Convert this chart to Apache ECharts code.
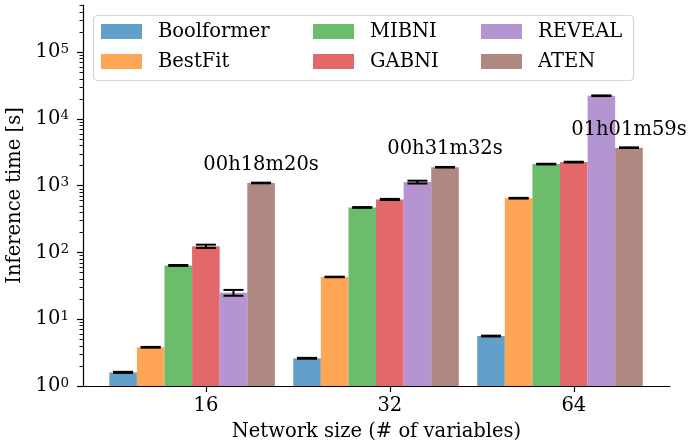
<!DOCTYPE html>
<html>
<head>
<meta charset="utf-8">
<script src="https://cdn.jsdelivr.net/npm/echarts@6/dist/echarts.min.js"></script>
<style>
  html, body { margin: 0; padding: 0; background: #fff; }
  #chart { width: 688px; height: 446px; }
</style>
</head>
<body>
<div id="chart"></div>
<script>
// Inference time per method and network size (log scale)
const categories = ['16', '32', '64'];
const methods = ['Boolformer', 'BestFit', 'MIBNI', 'GABNI', 'REVEAL', 'ATEN'];

const boolformerTimes = [1.6, 2.6, 5.6];
const bestfitTimes = [3.8, 43, 650];
const mibniTimes = [64, 473, 2110];
const gabniTimes = [124, 623, 2260];
const revealTimes = [25, 1135, 22300];
const atenTimes = [1100, 1892, 3719];

const boolformerErr = [0.03, 0.04, 0.08];
const bestfitErr = [0.05, 0.4, 8];
const mibniErr = [1, 6, 25];
const gabniErr = [7, 12, 30];
const revealErr = [2.5, 55, 250];
const atenErr = [12, 20, 40];

const atenLabels = ['00h18m20s', '00h31m32s', '01h01m59s'];

const yMajorTicks = [1, 10, 100, 1000, 10000, 100000];
const yMinorTicks = [];
yMajorTicks.forEach(base => {
    for (let m = 2; m <= 9; m++) yMinorTicks.push(base * m);
});

// tab10 colours blended at alpha 0.7 on white
const colors = ['#62a0ca', '#ffa556', '#6bbd6b', '#e2686a', '#b495d1', '#af8981'];

const allTimes = [boolformerTimes, bestfitTimes, mibniTimes, gabniTimes, revealTimes, atenTimes];
const allErr = [boolformerErr, bestfitErr, mibniErr, gabniErr, revealErr, atenErr];

const FONT = 'DejaVu Serif';
const BAR_W = 0.15;                 // bar width in x units
const GROUP_SHIFT = -BAR_W / 2;     // tick sits on the 4th bar's centre

const chart = echarts.init(document.getElementById('chart'), null, { renderer: 'canvas' });

const barSeries = methods.map((name, i) => ({
    name: name,
    type: 'bar',
    xAxisIndex: 0,
    yAxisIndex: 0,
    barWidth: (BAR_W * 100) + '%',
    barGap: '0%',
    itemStyle: { color: colors[i] },
    data: allTimes[i].map((v, k) => [k + GROUP_SHIFT, v]),
    label: i === 5 ? {
        show: true,
        position: 'top',
        distance: 8,
        color: '#000',
        fontFamily: FONT,
        fontSize: 19.5,
        formatter: p => atenLabels[p.dataIndex]
    } : { show: false },
    emphasis: { disabled: true },
    animation: false
}));

// error bar rows: [x, low, high]
const errRows = [];
methods.forEach((name, i) => {
    allTimes[i].forEach((v, k) => {
        const x = k + GROUP_SHIFT + (i - 2.5) * BAR_W;
        errRows.push([x, v - allErr[i][k], v + allErr[i][k]]);
    });
});

const errorSeries = {
    type: 'custom',
    name: 'err',
    xAxisIndex: 0,
    yAxisIndex: 0,
    data: errRows,
    encode: { x: 0, y: [1, 2] },
    z: 5,
    silent: true,
    animation: false,
    renderItem: function (params, api) {
        const x = api.value(0);
        const lo = api.coord([x, api.value(1)]);
        const hi = api.coord([x, api.value(2)]);
        const half = 10;
        const st = { stroke: '#000', lineWidth: 2 };
        return {
            type: 'group',
            children: [
                { type: 'line', shape: { x1: lo[0], y1: lo[1], x2: hi[0], y2: hi[1] }, style: st },
                { type: 'line', shape: { x1: lo[0] - half, y1: lo[1], x2: lo[0] + half, y2: lo[1] }, style: st },
                { type: 'line', shape: { x1: hi[0] - half, y1: hi[1], x2: hi[0] + half, y2: hi[1] }, style: st }
            ]
        };
    }
};

function makeLegend(names, left) {
    return {
        data: names,
        orient: 'vertical',
        left: left,
        top: 21.5,
        padding: 0,
        itemWidth: 41,
        itemHeight: 15,
        itemGap: 10,
        icon: 'rect',
        selectedMode: false,
        textStyle: {
            fontFamily: FONT,
            fontSize: 19.5,
            color: '#000',
            lineHeight: 20,
            padding: [0, 0, 0, 11]
        }
    };
}

const option = {
    backgroundColor: '#fff',
    animation: false,
    grid: {
        left: 83,
        right: 18,
        top: 5,
        bottom: 60,
        containLabel: false,
        outerBoundsMode: 'none'
    },
    graphic: [{
        type: 'rect',
        z: 0,
        shape: { x: 93.5, y: 15.5, width: 540, height: 65, r: 4 },
        style: { fill: '#fff', stroke: '#d6d6d6', lineWidth: 1.2 }
    }],
    legend: [
        makeLegend([methods[0], methods[1]], 101),
        makeLegend([methods[2], methods[3]], 313),
        makeLegend([methods[4], methods[5]], 481)
    ],
    xAxis: {
        type: 'value',
        min: -0.668,
        max: 2.523,
        name: 'Network size (# of variables)',
        nameLocation: 'middle',
        nameGap: 36,
        nameTextStyle: { fontFamily: FONT, fontSize: 19.5, color: '#000' },
        splitLine: { show: false },
        axisLine: { show: true, onZero: false, lineStyle: { color: '#000', width: 1.2 } },
        axisTick: { show: true, length: 6, customValues: [0, 1, 2], lineStyle: { color: '#000', width: 1.2 } },
        axisLabel: {
            customValues: [0, 1, 2],
            formatter: v => categories[Math.round(v)],
            margin: 10,
            fontFamily: FONT,
            fontSize: 19.5,
            color: '#000'
        }
    },
    yAxis: [{
        type: 'log',
        logBase: 10,
        min: 1,
        max: 510000,
        name: 'Inference time [s]',
        nameLocation: 'middle',
        nameGap: 55,
        nameTextStyle: { fontFamily: FONT, fontSize: 19.5, color: '#000' },
        splitLine: { show: false },
        axisLine: { show: true, onZero: false, lineStyle: { color: '#000', width: 1.2 } },
        axisTick: { show: true, length: 6, customValues: yMajorTicks, lineStyle: { color: '#000', width: 1.2 } },
        axisLabel: {
            customValues: yMajorTicks,
            margin: 14,
            formatter: v => '{b|10}{s|' + Math.round(Math.log10(v)) + '}',
            rich: {
                b: { fontFamily: FONT, fontSize: 19.5, color: '#000', lineHeight: 20, verticalAlign: 'bottom' },
                s: { fontFamily: FONT, fontSize: 13.5, color: '#000', lineHeight: 14, verticalAlign: 'top', padding: [0, 0, 12, 0] }
            }
        }
    }, {
        type: 'log',
        logBase: 10,
        min: 1,
        max: 510000,
        position: 'left',
        splitLine: { show: false },
        axisLine: { show: false, onZero: false },
        axisTick: { show: true, length: 3.5, customValues: yMinorTicks, lineStyle: { color: '#000', width: 0.9 } },
        axisLabel: { show: false }
    }],
    series: barSeries.concat([errorSeries])
};

chart.setOption(option);
</script>
</body>
</html>
